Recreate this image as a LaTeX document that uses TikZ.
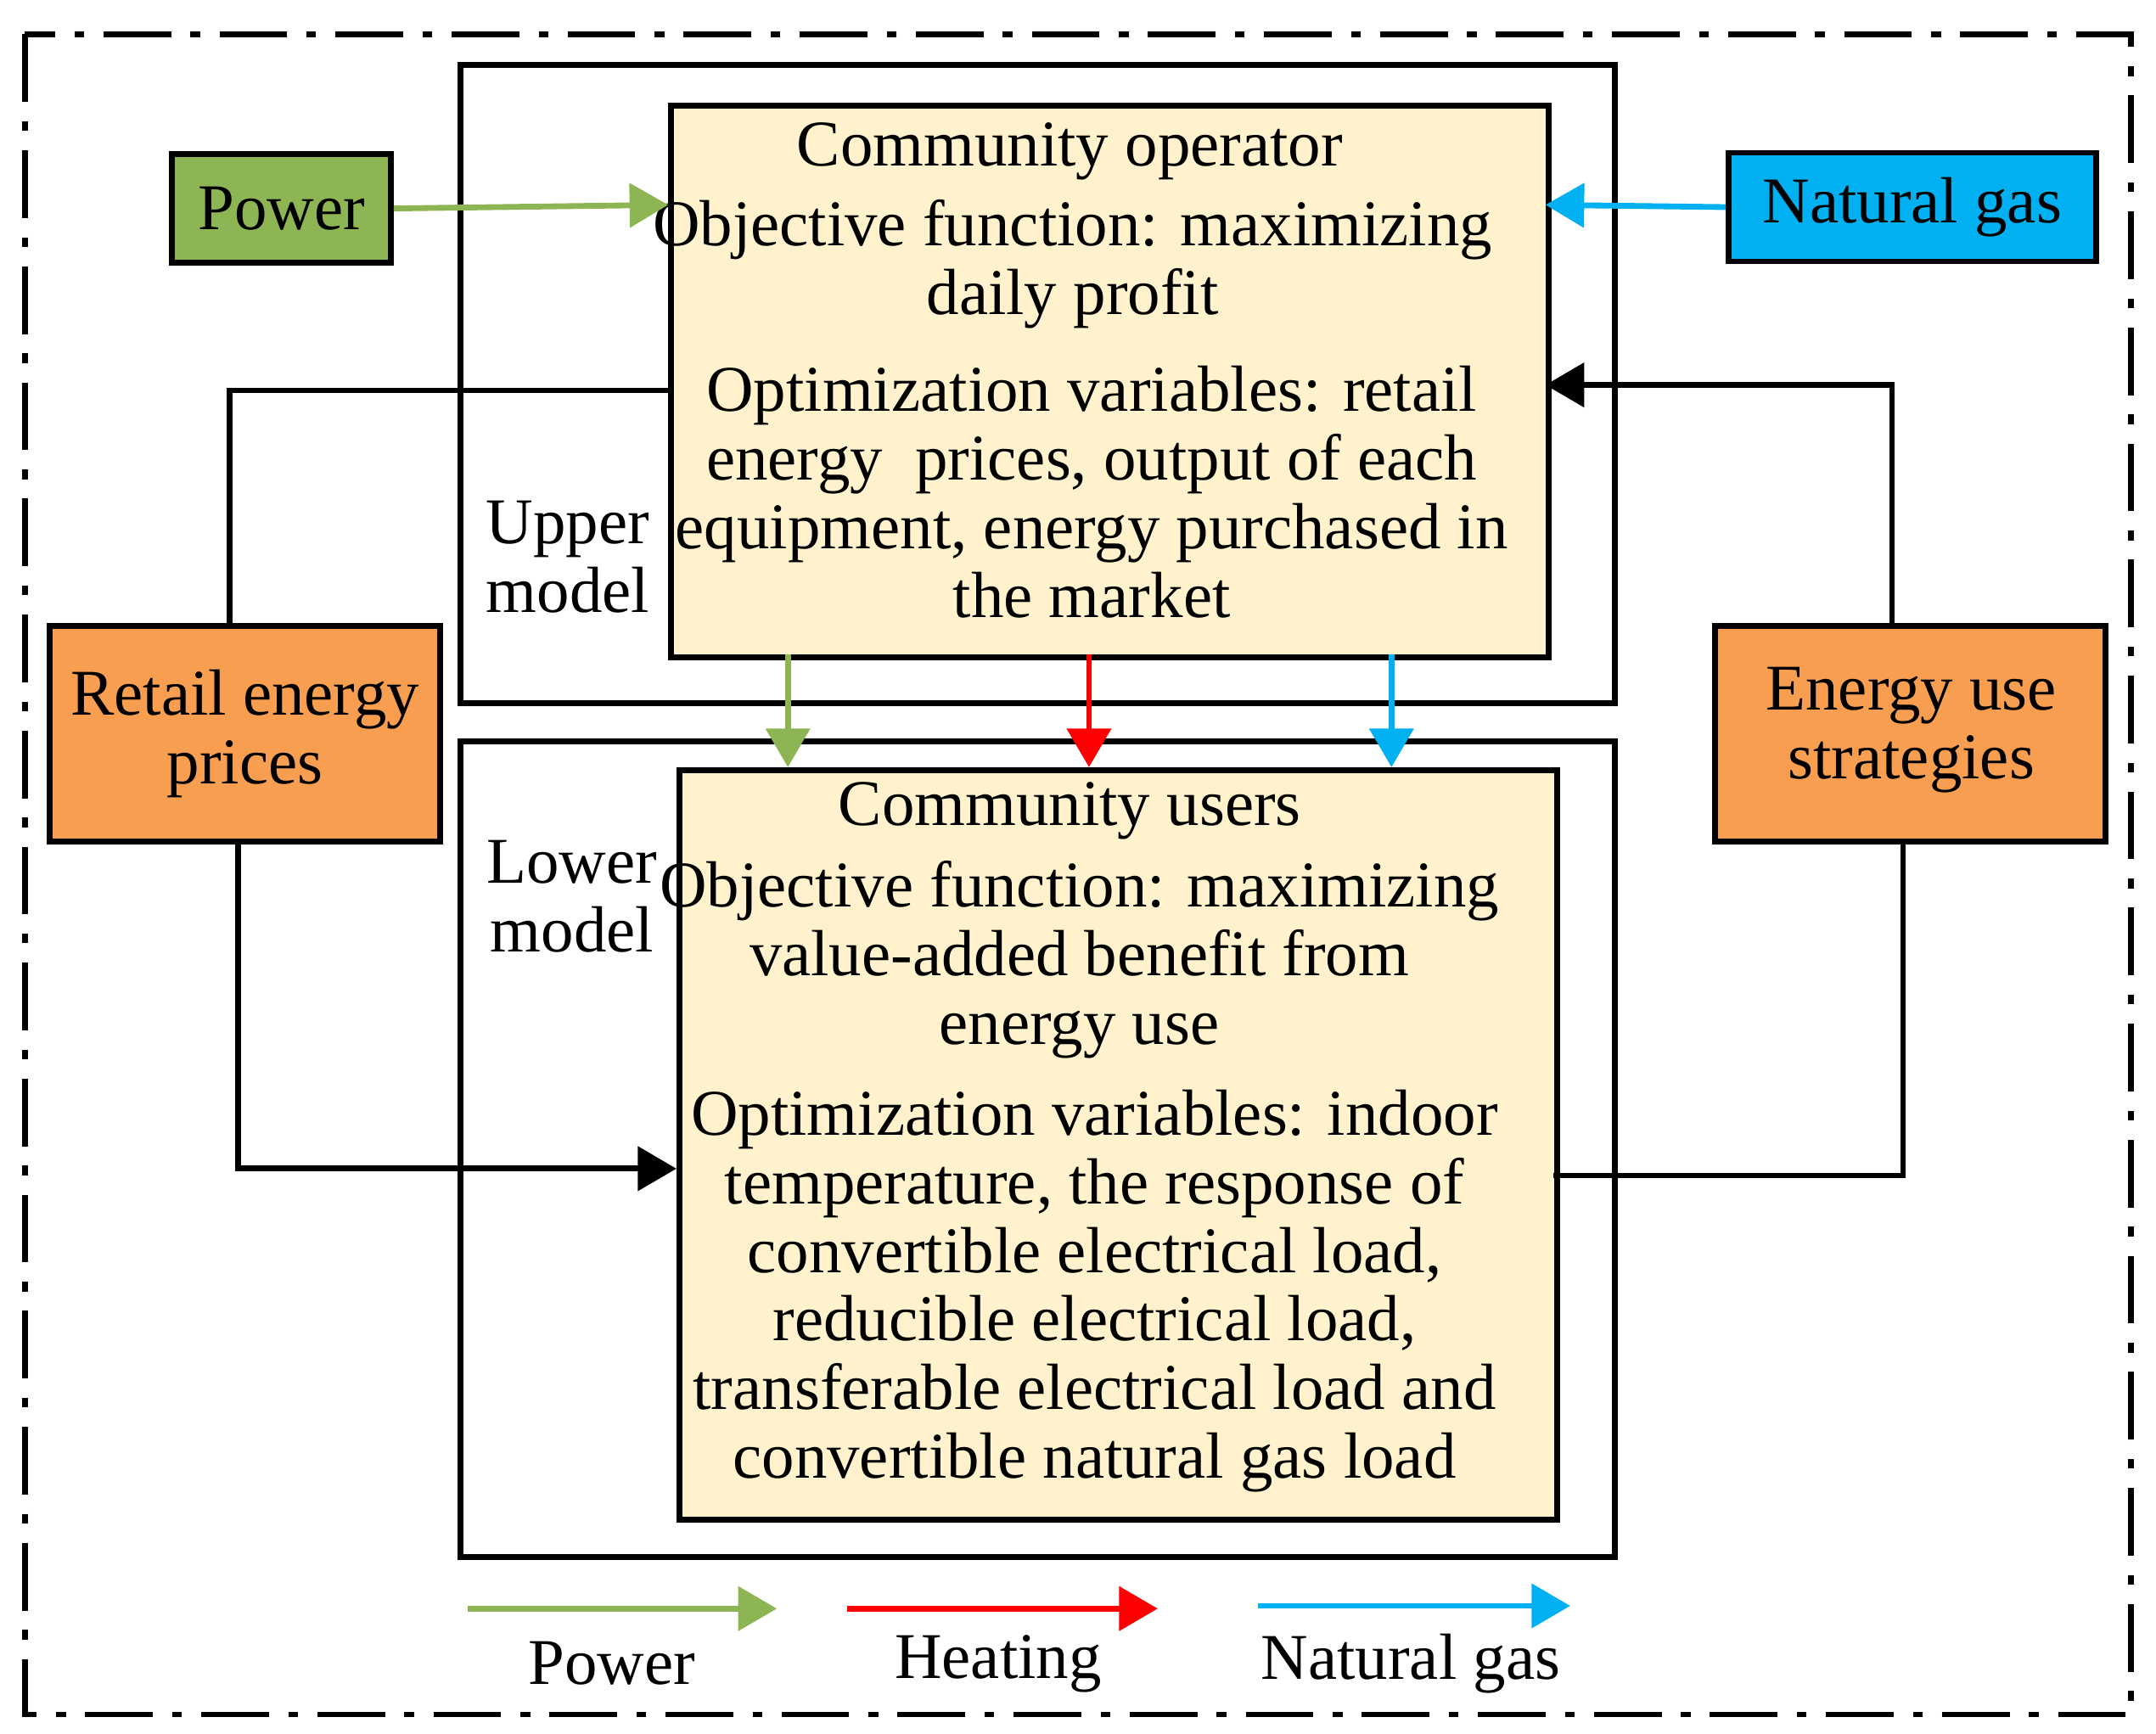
\documentclass[tikz,border=0pt]{standalone}
\usepackage{fontspec}
\setmainfont{Liberation Serif}
\usetikzlibrary{arrows.meta}
\definecolor{pgreen}{HTML}{8DB553}
\definecolor{gblue}{HTML}{00B0F0}
\definecolor{orng}{HTML}{F79E50}
\definecolor{cream}{HTML}{FFF2CC}
\begin{document}
\begin{tikzpicture}[x=0.01cm,y=-0.01cm,
  box/.style={draw,line width=1.2pt,inner sep=0pt,anchor=north west},
  txt/.style={align=center,font=\fontsize{13.5}{14.2}\selectfont,inner sep=0pt},
  ln/.style={line width=1.2pt},
  arr/.style={line width=1.2pt,-{Triangle[length=8pt,width=9pt]}}]
\useasboundingbox (0,0) rectangle (1568,1261);
\draw[line width=1.2pt,dash pattern=on 14pt off 4pt on 2pt off 4pt] (18,25) rectangle (1550,1247);
\node[box,minimum width=8.39cm,minimum height=4.64cm] (uf) at (333,45) {};
\node[box,minimum width=8.39cm,minimum height=5.93cm] (lf) at (333,537) {};
\node[box,fill=cream,minimum width=6.38cm,minimum height=4.01cm] (op) at (486,75) {};
\node[box,fill=cream,minimum width=6.38cm,minimum height=5.45cm] (us) at (492,558) {};
\node[box,fill=pgreen,minimum width=1.59cm,minimum height=0.79cm] (pw) at (123,110) {};
\node[txt] at (pw.center) {Power};
\node[box,fill=gblue,minimum width=2.67cm,minimum height=0.79cm] (ng) at (1255,109) {};
\node[txt] at (ng.center) {Natural gas};
\node[box,fill=orng,minimum width=2.84cm,minimum height=1.57cm] (rp) at (34,453) {};
\node[txt] at (rp.center) {Retail energy\\prices};
\node[box,fill=orng,minimum width=2.84cm,minimum height=1.57cm] (eu) at (1245,453) {};
\node[txt] at (1390,531) {Energy use\\strategies};
\node[txt] (ul) at (413,405) {Upper\\model};
\node[txt] (ll) at (416,652) {Lower\\model};
\node[txt] (t1) at (778,110) {Community operator};
\node[txt] (t2) at (780,192) {Objective function: maximizing\\daily profit};
\node[txt] (t3) at (794,358) {Optimization variables: retail\\energy\ \ prices, output of each\\equipment, energy purchased in\\the market};
\node[txt] (t4) at (778,590) {Community users};
\node[txt] (t5) at (785,698) {Objective function: maximizing\\value-added benefit from\\energy use};
\node[txt] (t6) at (796,939) {Optimization variables: indoor\\temperature, the response of\\convertible electrical load,\\reducible electrical load,\\transferable electrical load and\\convertible natural gas load};
\draw[arr,pgreen] (pw.east) -- (486,149);
\draw[arr,gblue] (ng.west) -- (1124,149);
\draw[ln] (167,453) |- (486,284);
\coordinate (c1) at (1376,453);
\draw[arr] (c1) |- (1124,280);
\coordinate (c2) at (173,610);
\draw[arr] (c2) |- (492,850);
\coordinate (c3) at (1130,855);
\draw[ln] (c3) -| (1384,610);
\draw[arr,pgreen] (573,476) -- (573,558);
\draw[arr,red] (792,476) -- (792,558);
\draw[arr,gblue] (1012,476) -- (1012,558);
\coordinate (l1) at (340,1170); \coordinate (l2) at (565,1170);
\coordinate (l3) at (616,1170); \coordinate (l4) at (842,1170);
\coordinate (l5) at (915,1168); \coordinate (l6) at (1142,1168);
\draw[arr,pgreen] (l1) -- (l2);
\draw[arr,red] (l3) -- (l4);
\draw[arr,gblue] (l5) -- (l6);
\node[txt] at (445,1210) {Power};
\node[txt] at (726,1210) {Heating};
\node[txt] at (1026,1210) {Natural gas};
\end{tikzpicture}
\end{document}
